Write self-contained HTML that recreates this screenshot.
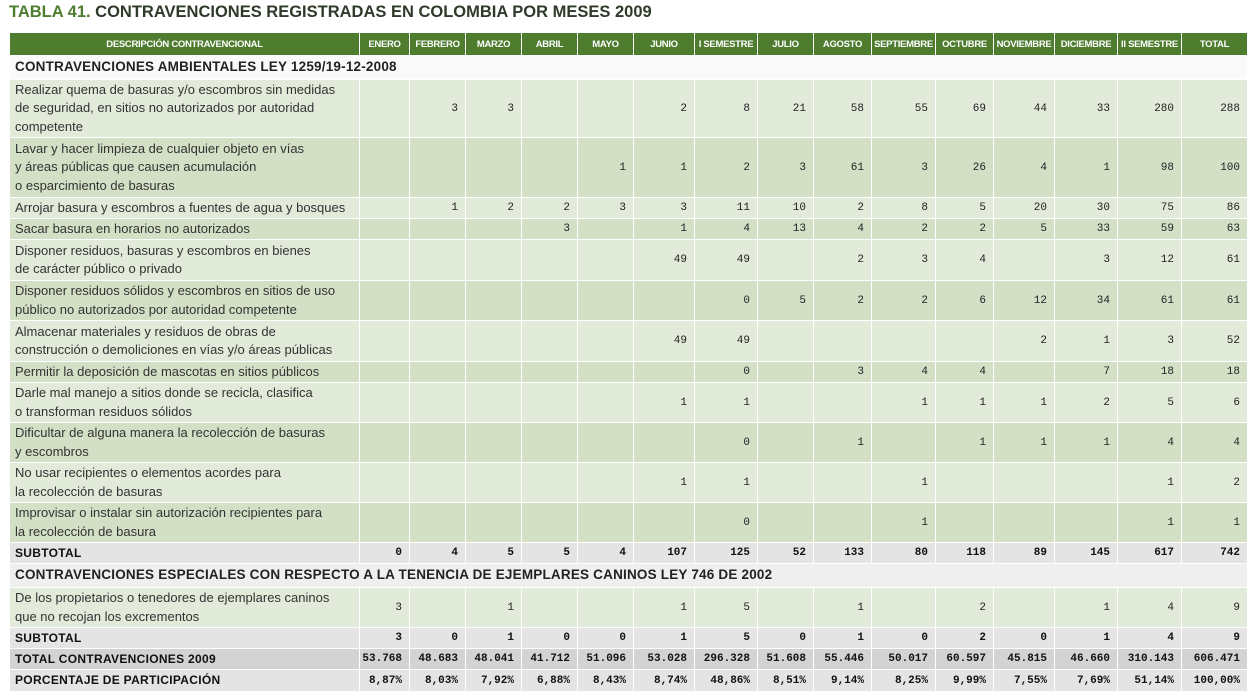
<!DOCTYPE html>
<html><head><meta charset="utf-8">
<style>
body{margin:0;background:#fff;width:1255px;height:697px;overflow:hidden;font-family:"Liberation Sans",sans-serif;position:relative}
.c{position:absolute;box-sizing:border-box;border-right:1px solid #fff;border-bottom:1px solid #fff;display:flex;align-items:center;overflow:hidden}
.desc{padding-left:5px;font-size:13px;line-height:18.5px;color:#333}
.num{justify-content:flex-end;padding-right:7px;font-family:"Liberation Mono",monospace;font-size:11px;color:#222}
.hd{background:#4e7d2f;color:#fff;font-weight:bold;font-size:9.5px;justify-content:center;letter-spacing:-0.3px}
.bold{font-weight:bold;color:#111}
#title{position:absolute;left:9px;top:3px;font-size:16.5px;font-weight:bold;color:#2f3a2a}
#title span{color:#4e7d2f}
</style></head><body>
<div id="title"><span>TABLA 41.</span> CONTRAVENCIONES REGISTRADAS EN COLOMBIA POR MESES 2009</div>
<div id="t"></div>
<script>
const headers=["ENERO","FEBRERO","MARZO","ABRIL","MAYO","JUNIO","I SEMESTRE","JULIO","AGOSTO","SEPTIEMBRE","OCTUBRE","NOVIEMBRE","DICIEMBRE","II SEMESTRE","TOTAL"];
const colW=[350,50,56,56,56,56,61,63,56,58,64,58,61,63,64,66];
const rows=[
{t:"sec",d:"CONTRAVENCIONES AMBIENTALES LEY 1259/19-12-2008",h:24},
{t:"r",d:"Realizar quema de basuras y/o escombros sin medidas<br>de seguridad, en sitios no autorizados por autoridad<br>competente",h:58,v:["",3,3,"","",2,8,21,58,55,69,44,33,280,288]},
{t:"r",d:"Lavar y hacer limpieza de cualquier objeto en vías<br>y áreas públicas que causen acumulación<br>o esparcimiento de basuras",h:60,v:["","","","",1,1,2,3,61,3,26,4,1,98,100]},
{t:"r",d:"Arrojar basura y escombros a fuentes de agua y bosques",h:21,v:["",1,2,2,3,3,11,10,2,8,5,20,30,75,86]},
{t:"r",d:"Sacar basura en horarios no autorizados",h:21,v:["","","",3,"",1,4,13,4,2,2,5,33,59,63]},
{t:"r",d:"Disponer residuos, basuras y escombros en bienes<br>de carácter público o privado",h:41,v:["","","","","",49,49,"",2,3,4,"",3,12,61]},
{t:"r",d:"Disponer residuos sólidos y escombros en sitios de uso<br>público no autorizados por autoridad competente",h:40,v:["","","","","","",0,5,2,2,6,12,34,61,61]},
{t:"r",d:"Almacenar materiales y residuos de obras de<br>construcción o demoliciones en vías y/o áreas públicas",h:41,v:["","","","","",49,49,"","","","",2,1,3,52]},
{t:"r",d:"Permitir la deposición de mascotas en sitios públicos",h:21,v:["","","","","","",0,"",3,4,4,"",7,18,18]},
{t:"r",d:"Darle mal manejo a sitios donde se recicla, clasifica<br>o transforman residuos sólidos",h:40,v:["","","","","",1,1,"","",1,1,1,2,5,6]},
{t:"r",d:"Dificultar de alguna manera la recolección de basuras<br>y escombros",h:40,v:["","","","","","",0,"",1,"",1,1,1,4,4]},
{t:"r",d:"No usar recipientes o elementos acordes para<br>la recolección de basuras",h:40,v:["","","","","",1,1,"","",1,"","","",1,2]},
{t:"r",d:"Improvisar o instalar sin autorización recipientes para<br>la recolección de basura",h:40,v:["","","","","","",0,"","",1,"","","",1,1]},
{t:"sub",d:"SUBTOTAL",h:21,v:[0,4,5,5,4,107,125,52,133,80,118,89,145,617,742]},
{t:"sec",d:"CONTRAVENCIONES ESPECIALES CON RESPECTO A LA TENENCIA DE EJEMPLARES CANINOS  LEY 746 DE 2002",h:24},
{t:"r",d:"De los propietarios o tenedores de ejemplares caninos<br>que no recojan los excrementos",h:40,v:[3,"",1,"","",1,5,"",1,"",2,"",1,4,9]},
{t:"sub",d:"SUBTOTAL",h:21,v:[3,0,1,0,0,1,5,0,1,0,2,0,1,4,9]},
{t:"tot",d:"TOTAL CONTRAVENCIONES 2009",h:21,v:["53.768","48.683","48.041","41.712","51.096","53.028","296.328","51.608","55.446","50.017","60.597","45.815","46.660","310.143","606.471"]},
{t:"pct",d:"PORCENTAJE DE PARTICIPACIÓN",h:22,v:["8,87%","8,03%","7,92%","6,88%","8,43%","8,74%","48,86%","8,51%","9,14%","8,25%","9,99%","7,55%","7,69%","51,14%","100,00%"]}
];
const T=document.getElementById('t');
function cell(x,y,w,h,cls,html,bg){const d=document.createElement('div');d.className='c '+cls;d.style.left=x+'px';d.style.top=y+'px';d.style.width=w+'px';d.style.height=h+'px';if(bg)d.style.background=bg;d.innerHTML=html;T.appendChild(d);return d;}
let x=10,y=33;
colW.forEach((w,i)=>{const e=cell(x,y,w,23,'hd',i==0?'DESCRIPCIÓN CONTRAVENCIONAL':headers[i-1]);

x+=w;});
y=56;let k=0,secN=0;
rows.forEach((r,ri)=>{
 if(r.t=='sec'){const e=cell(10,y,1238,r.h,'desc',r.d,secN==0?'#fafafa':'#efefef');e.style.fontSize='13.5px';e.style.fontWeight='bold';e.style.color='#222';e.style.letterSpacing='0.2px';
  
  secN++;k=0;y+=r.h;return;}
 let bg,bold=false;
 if(r.t=='r'){bg=(k%2==0)?'#e2eada':'#d3e0c6';k++;}
 else if(r.t=='sub'){bg='#e4e4e4';bold=true;}
 else if(r.t=='tot'){bg='#d3d3d3';bold=true;}
 else {bg='#e4e4e4';bold=true;}
 let xx=10;
 const d=cell(xx,y,colW[0],r.h,'desc'+(bold?' bold':''),r.d,bg);
 if(bold){d.style.fontSize='12px';d.style.letterSpacing='0.3px';}
 
 
 xx+=colW[0];
 r.v.forEach((v,j)=>{const e=cell(xx,y,colW[j+1],r.h,'num'+(bold?' bold':''),String(v),bg);
  
  xx+=colW[j+1];});
 y+=r.h;
});
</script>
</body></html>
